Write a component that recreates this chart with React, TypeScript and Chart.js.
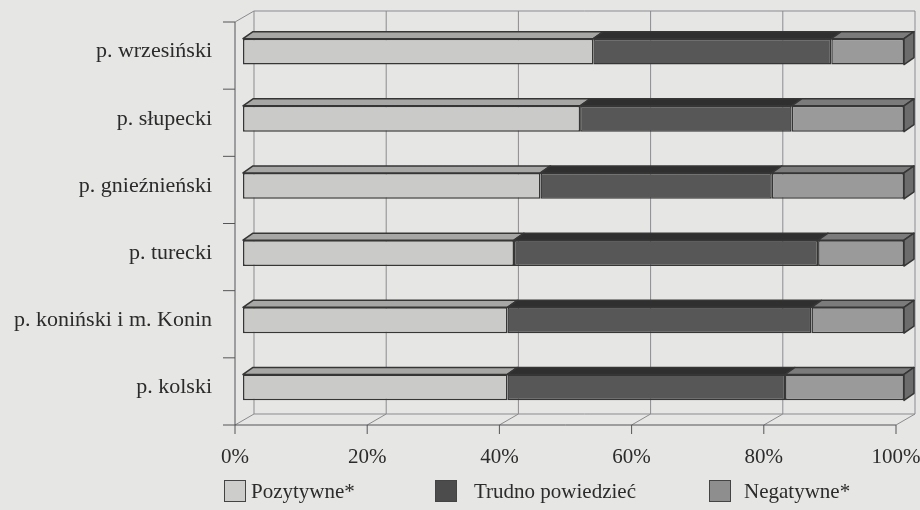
import { useEffect, useRef } from 'react';
import { Chart, registerables } from 'chart.js';

Chart.register(...registerables);

// ---- data ----
const categories = [
  'p. wrzesiński',
  'p. słupecki',
  'p. gnieźnieński',
  'p. turecki',
  'p. koniński i m. Konin',
  'p. kolski',
];
const seriesNames = ['Pozytywne*', 'Trudno powiedzieć', 'Negatywne*'];
const pozytywne = [53, 51, 45, 41, 40, 40];
const trudnoPowiedziec = [36, 32, 35, 46, 46, 42];
const negatywne = [11, 17, 20, 13, 14, 18];
const xTickValues = [0, 20, 40, 60, 80, 100];

// ---- styles ----
const FONT = '"Liberation Serif", "Times New Roman", serif';
const TEXT = '#2b2b2b';
const BG = '#e6e6e4';
const GRID = '#8c8a8f';
const OUTLINE = '#363636';
const FRONT_COLORS = ['#cacac8', '#575757', '#9a9a9a'];
const TOP_COLORS = ['#a7a7a5', '#2f2f2f', '#7b7b7b'];
const SIDE_COLOR = '#6c6c6c';
const LEGEND_COLORS = ['#cdcdcb', '#4c4c4c', '#8e8e8e'];

const DEPTH = { dx: 10, dy: -7 }; // bar depth
const FRONT = { dx: -8, dy: 4 }; // front plane offset from bar plane
const BACK = { dx: 11, dy: -7 }; // back wall offset from bar plane

function line(ctx: CanvasRenderingContext2D, x1: number, y1: number, x2: number, y2: number) {
  ctx.beginPath();
  ctx.moveTo(x1, y1);
  ctx.lineTo(x2, y2);
  ctx.stroke();
}

function zeroPadding(s: any) {
  s.paddingLeft = 0;
  s.paddingRight = 0;
  s.paddingTop = 0;
  s.paddingBottom = 0;
}

const scenePlugin = {
  id: 'scene3d',
  beforeDraw(chart: any) {
    const { ctx, width, height } = chart;
    ctx.save();
    ctx.fillStyle = BG;
    ctx.fillRect(0, 0, width, height);
    ctx.restore();
  },
  beforeDatasetsDraw(chart: any) {
    const { ctx, chartArea: a, scales } = chart;
    const x = scales.x;
    const n = categories.length;
    const fTop = a.top + FRONT.dy;
    const fBot = a.bottom + FRONT.dy;
    const bTop = a.top + BACK.dy;
    const bBot = a.bottom + BACK.dy;
    const x0 = x.getPixelForValue(xTickValues[0]);
    const x1 = x.getPixelForValue(xTickValues[xTickValues.length - 1]);
    ctx.save();
    ctx.lineWidth = 1;
    ctx.strokeStyle = GRID;
    x.ticks.forEach((t: any) => {
      const px = x.getPixelForValue(t.value);
      const bx = px + BACK.dx;
      const fx = px + FRONT.dx;
      line(ctx, bx, bTop, bx, bBot);
      line(ctx, bx, bBot, fx, fBot);
    });
    // back wall top edge and floor back edge
    line(ctx, x0 + BACK.dx, bTop, x1 + BACK.dx, bTop);
    line(ctx, x0 + BACK.dx, bBot, x1 + BACK.dx, bBot);
    // left wall top edge
    line(ctx, x0 + FRONT.dx, fTop, x0 + BACK.dx, bTop);
    // front axis lines
    ctx.strokeStyle = '#555558';
    line(ctx, x0 + FRONT.dx, fBot, x1 + FRONT.dx, fBot);
    line(ctx, x0 + FRONT.dx, fTop, x0 + FRONT.dx, fBot);
    x.ticks.forEach((t: any) => {
      const fx = x.getPixelForValue(t.value) + FRONT.dx;
      line(ctx, fx, fBot, fx, fBot + 9);
    });
    for (let i = 0; i <= n; i++) {
      const yy = fTop + ((fBot - fTop) * i) / n;
      line(ctx, x0 + FRONT.dx - 12, yy, x0 + FRONT.dx, yy);
    }
    ctx.restore();
  },
  afterDatasetsDraw(chart: any) {
    const { ctx } = chart;
    const count = chart.data.datasets.length;
    ctx.save();
    ctx.lineWidth = 1.5;
    ctx.strokeStyle = OUTLINE;
    ctx.lineJoin = 'round';
    for (let d = 0; d < count; d++) {
      const meta = chart.getDatasetMeta(d);
      meta.data.forEach((bar: any) => {
        const p = bar.getProps(['x', 'y', 'base', 'height'], true);
        const left = Math.min(p.base, p.x);
        const right = Math.max(p.base, p.x);
        const top = p.y - p.height / 2;
        const bottom = p.y + p.height / 2;
        // top face
        ctx.beginPath();
        ctx.moveTo(left, top);
        ctx.lineTo(right, top);
        ctx.lineTo(right + DEPTH.dx, top + DEPTH.dy);
        ctx.lineTo(left + DEPTH.dx, top + DEPTH.dy);
        ctx.closePath();
        ctx.fillStyle = TOP_COLORS[d];
        ctx.fill();
        ctx.stroke();
        if (d === count - 1) {
          ctx.beginPath();
          ctx.moveTo(right, top);
          ctx.lineTo(right + DEPTH.dx, top + DEPTH.dy);
          ctx.lineTo(right + DEPTH.dx, bottom + DEPTH.dy);
          ctx.lineTo(right, bottom);
          ctx.closePath();
          ctx.fillStyle = SIDE_COLOR;
          ctx.fill();
          ctx.stroke();
        }
      });
    }
    ctx.restore();
  },
  afterDraw(chart: any) {
    const { ctx } = chart;
    const boxX = [224, 435, 709];
    const textX = [251, 474, 744];
    const cy = 491;
    ctx.save();
    ctx.font = `21px ${FONT}`;
    ctx.textBaseline = 'middle';
    ctx.textAlign = 'left';
    chart.data.datasets.forEach((ds: any, i: number) => {
      ctx.fillStyle = LEGEND_COLORS[i];
      ctx.fillRect(boxX[i], cy - 10.5, 22, 21);
      ctx.lineWidth = 1;
      ctx.strokeStyle = '#444';
      ctx.strokeRect(boxX[i] + 0.5, cy - 10.5, 21, 21);
      ctx.fillStyle = TEXT;
      ctx.fillText(ds.label, textX[i], cy + 1);
    });
    ctx.restore();
  },
};

export default function App() {
  const canvasRef = useRef<HTMLCanvasElement | null>(null);

  useEffect(() => {
    if (!canvasRef.current) return;
    const chart = new Chart(canvasRef.current, {
      type: 'bar',
      data: {
        labels: categories,
        datasets: [pozytywne, trudnoPowiedziec, negatywne].map((values, i) => ({
          label: seriesNames[i],
          data: values,
          backgroundColor: FRONT_COLORS[i],
          borderColor: OUTLINE,
          borderWidth: 1.5,
          borderSkipped: false,
          barPercentage: 0.385,
          categoryPercentage: 1,
        })),
      },
      options: {
        indexAxis: 'y',
        animation: false,
        responsive: false,
        devicePixelRatio: 1,
        layout: { padding: { top: 18, right: 16, left: 0, bottom: 0 } },
        plugins: { legend: { display: false }, tooltip: { enabled: false } },
        scales: {
          x: {
            stacked: true,
            min: 0,
            max: 100,
            afterFit: (s: any) => {
              s.height = 89;
              zeroPadding(s);
            },
            afterBuildTicks: (s: any) => {
              s.ticks = xTickValues.map((v) => ({ value: v }));
            },
            grid: { display: false, drawTicks: false },
            border: { display: false },
            ticks: {
              padding: 24,
              labelOffset: -8,
              maxRotation: 0,
              color: TEXT,
              font: { family: FONT, size: 21 },
              callback: (v: any) => `${v}%`,
            },
          },
          y: {
            stacked: true,
            afterFit: (s: any) => {
              s.width = 243;
              zeroPadding(s);
            },
            grid: { display: false, drawTicks: false },
            border: { display: false },
            ticks: {
              padding: 31,
              color: TEXT,
              font: { family: FONT, size: 22 },
            },
          },
        },
      },
      plugins: [scenePlugin],
    });
    return () => chart.destroy();
  }, []);

  return (
    <div style={{ position: 'absolute', left: 0, top: 0, width: 920, height: 510, background: BG }}>
      <canvas ref={canvasRef} width={920} height={510} style={{ display: 'block' }} />
    </div>
  );
}
